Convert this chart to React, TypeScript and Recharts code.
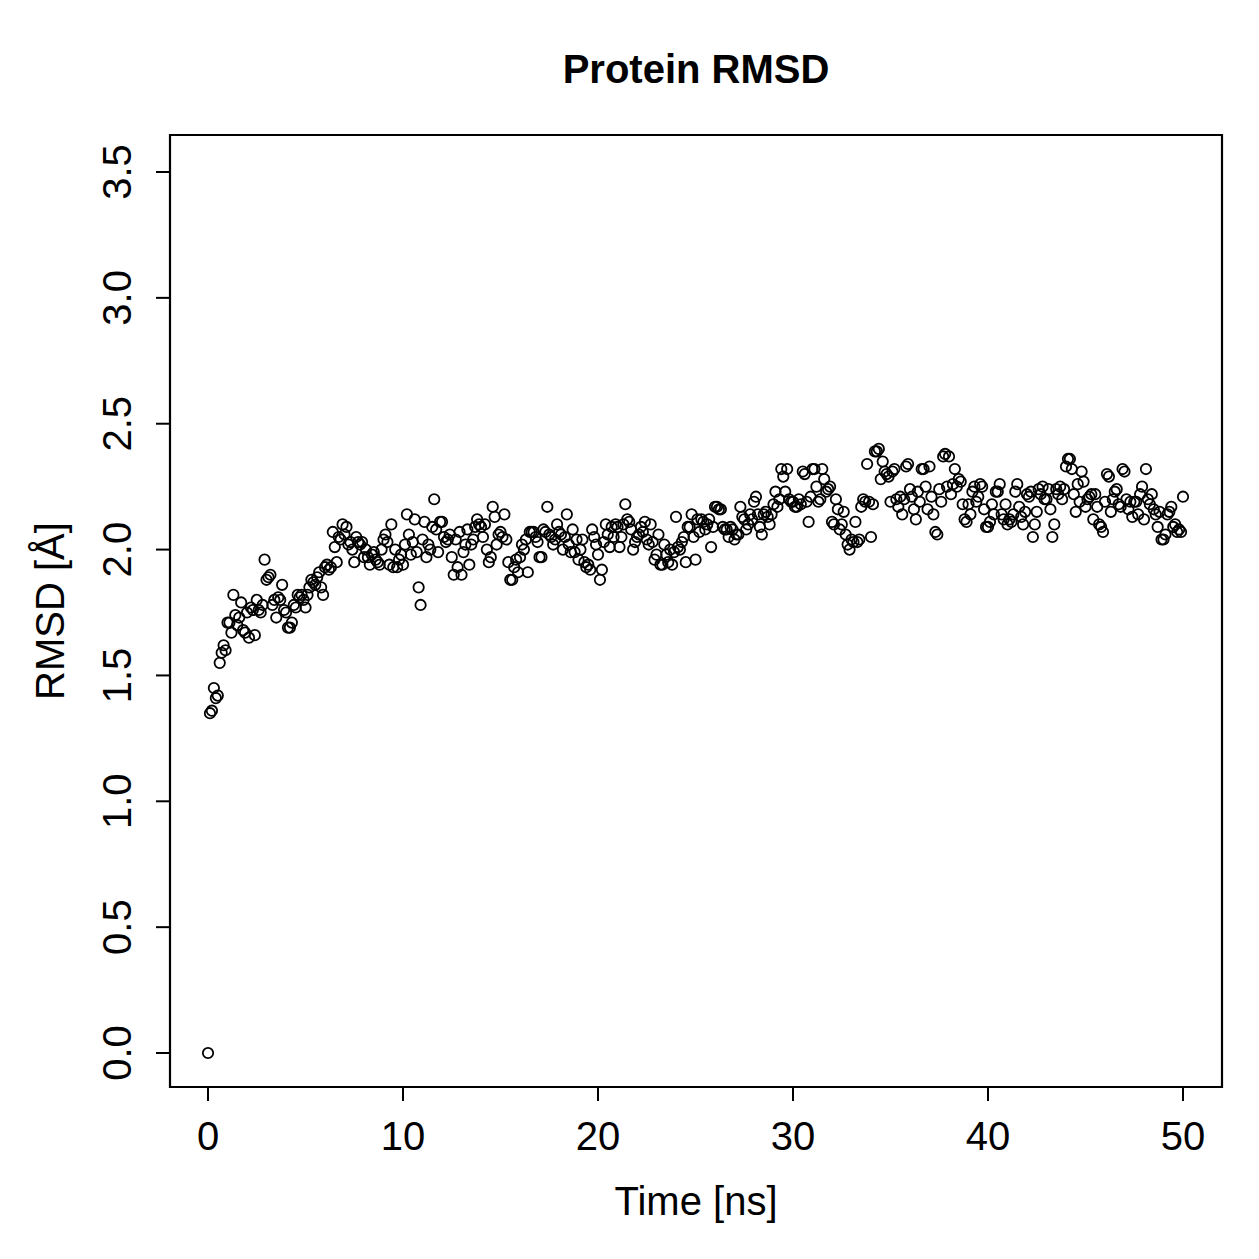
import React from "react";
import { ScatterChart, Scatter, XAxis, YAxis, ReferenceArea } from "recharts";

// RMSD trajectory sampled every 0.1 ns, split by 10 ns blocks
const TIME_STEP = 0.1;

const rmsd00to10 = [
  0.0, 1.35, 1.36, 1.45, 1.41, 1.42, 1.55, 1.59, 1.62, 1.6,
  1.71, 1.71, 1.67, 1.82, 1.74, 1.7, 1.73, 1.79, 1.68, 1.67,
  1.75, 1.65, 1.77, 1.76, 1.66, 1.8, 1.76, 1.75, 1.78, 1.96,
  1.88, 1.89, 1.9, 1.78, 1.8, 1.73, 1.81, 1.8, 1.86, 1.76,
  1.75, 1.69, 1.69, 1.71, 1.78, 1.77, 1.82, 1.81, 1.82, 1.8,
  1.77, 1.82, 1.85, 1.88, 1.87, 1.86, 1.89, 1.91, 1.85, 1.82,
  1.93, 1.94, 1.92, 1.93, 2.07, 2.01, 1.95, 2.05, 2.04, 2.1,
  2.06, 2.09, 2.02, 2.03, 2.0, 1.95, 2.05, 2.03, 2.02, 2.03,
  1.97, 2.0, 1.97, 1.94, 1.98, 1.99, 1.96, 1.95, 1.94, 2.0,
  2.04, 2.06, 2.03, 1.94, 2.1, 1.93, 2.0, 1.93, 1.96, 1.98,
];

const rmsd10to20 = [
  1.94, 2.02, 2.14, 2.06, 1.98, 2.03, 2.12, 1.99, 1.85, 1.78,
  2.04, 2.11, 1.97, 2.02, 2.0, 2.09, 2.2, 2.08, 1.99, 2.11,
  2.11, 2.05, 2.03, 2.04, 2.06, 1.97, 1.9, 2.04, 1.93, 2.07,
  1.9, 1.99, 2.02, 2.08, 1.94, 2.02, 2.04, 2.09, 2.12, 2.1,
  2.09, 2.05, 2.1, 2.0, 1.95, 1.97, 2.17, 2.13, 2.02, 2.06,
  2.07, 2.05, 2.14, 2.04, 1.95, 1.88, 1.88, 1.93, 1.96, 1.91,
  1.97, 2.02, 2.0, 2.04, 1.91, 2.07, 2.07, 2.07, 2.05, 2.03,
  1.97, 1.97, 2.08, 2.07, 2.17, 2.06, 2.05, 2.02, 2.04, 2.1,
  2.07, 2.06, 2.0, 2.05, 2.14, 2.02, 1.99, 2.08, 1.99, 2.04,
  1.96, 2.0, 2.04, 1.95, 1.93, 1.94, 1.92, 2.08, 2.05, 2.02,
];

const rmsd20to30 = [
  1.98, 1.88, 1.92, 2.03, 2.1, 2.06, 2.01, 2.09, 2.05, 2.1,
  2.09, 2.01, 2.05, 2.1, 2.18, 2.12, 2.11, 2.08, 2.0, 2.03,
  2.05, 2.06, 2.09, 2.07, 2.11, 2.04, 2.02, 2.1, 2.03, 1.96,
  1.98, 2.06, 1.94, 1.94, 2.02, 1.98, 1.95, 2.0, 1.94, 1.99,
  2.13, 2.01, 2.0, 2.03, 2.05, 1.95, 2.09, 2.09, 2.14, 2.05,
  1.96, 2.12, 2.07, 2.12, 2.11, 2.08, 2.1, 2.12, 2.01, 2.09,
  2.17, 2.17, 2.16, 2.16, 2.09, 2.08, 2.08, 2.05, 2.09, 2.08,
  2.04, 2.06, 2.06, 2.17, 2.13, 2.12, 2.08, 2.1, 2.14, 2.12,
  2.19, 2.21, 2.14, 2.09, 2.06, 2.14, 2.15, 2.13, 2.1, 2.14,
  2.18, 2.23, 2.17, 2.2, 2.32, 2.29, 2.23, 2.32, 2.2, 2.19,
];

const rmsd30to40 = [
  2.19, 2.17, 2.17, 2.2, 2.18, 2.31, 2.3, 2.19, 2.11, 2.21,
  2.32, 2.32, 2.25, 2.19, 2.2, 2.32, 2.28, 2.23, 2.24, 2.25,
  2.11, 2.1, 2.2, 2.16, 2.08, 2.1, 2.15, 2.06, 2.02, 2.0,
  2.04, 2.03, 2.11, 2.03, 2.04, 2.17, 2.2, 2.19, 2.34, 2.19,
  2.05, 2.18, 2.39, 2.39, 2.4, 2.28, 2.35, 2.31, 2.3, 2.29,
  2.19, 2.31, 2.32, 2.2, 2.17, 2.21, 2.14, 2.2, 2.33, 2.34,
  2.24, 2.21, 2.16, 2.12, 2.23, 2.19, 2.32, 2.32, 2.25, 2.16,
  2.33, 2.21, 2.14, 2.07, 2.06, 2.24, 2.19, 2.37, 2.38, 2.25,
  2.37, 2.22, 2.26, 2.32, 2.25, 2.28, 2.27, 2.18, 2.12, 2.11,
  2.18, 2.14, 2.23, 2.25, 2.19, 2.21, 2.26, 2.25, 2.16, 2.09,
];

const rmsd40to50 = [
  2.09, 2.11, 2.18, 2.14, 2.23, 2.23, 2.26, 2.14, 2.12, 2.18,
  2.1, 2.12, 2.11, 2.14, 2.23, 2.26, 2.17, 2.13, 2.1, 2.15,
  2.22, 2.21, 2.23, 2.05, 2.1, 2.15, 2.24, 2.22, 2.25, 2.2,
  2.2, 2.24, 2.16, 2.05, 2.1, 2.24, 2.22, 2.25, 2.2, 2.24,
  2.33, 2.36, 2.36, 2.32, 2.22, 2.15, 2.26, 2.19, 2.31, 2.27,
  2.17, 2.2, 2.21, 2.22, 2.12, 2.22, 2.17, 2.1, 2.09, 2.07,
  2.19, 2.3, 2.29, 2.15, 2.2, 2.23, 2.24, 2.18, 2.17, 2.32,
  2.31, 2.2, 2.16, 2.19, 2.13, 2.19, 2.19, 2.14, 2.22, 2.25,
  2.12, 2.32, 2.2, 2.18, 2.22, 2.16, 2.14, 2.09, 2.15, 2.04,
  2.04, 2.06, 2.14, 2.15, 2.17, 2.09, 2.1, 2.07, 2.08, 2.07,
  2.21,
];

const xTicks = [0, 10, 20, 30, 40, 50];
const yTicks = [0, 0.5, 1, 1.5, 2, 2.5, 3, 3.5];

const rmsd = [...rmsd00to10, ...rmsd10to20, ...rmsd20to30, ...rmsd30to40, ...rmsd40to50];
const points = rmsd.map((v, i) => ({ t: Math.round(i * TIME_STEP * 10) / 10, rmsd: v }));

const FONT = "'Liberation Sans', Arial, Helvetica, sans-serif";
const W = 1259;
const H = 1259;
const X_DOMAIN: [number, number] = [-1.95, 52];
const Y_DOMAIN: [number, number] = [-0.135, 3.647];

const XTick = (props: any) => {
  const { x, y, payload } = props;
  return (
    <text x={x} y={y} dy={47} textAnchor="middle" fontFamily={FONT} fontSize={40} fill="#000">
      {payload.value}
    </text>
  );
};

const YTick = (props: any) => {
  const { y, payload } = props;
  const bx = 131;
  return (
    <text
      x={bx}
      y={y}
      transform={`rotate(-90, ${bx}, ${y})`}
      textAnchor="middle"
      fontFamily={FONT}
      fontSize={40}
      fill="#000"
    >
      {Number(payload.value).toFixed(1)}
    </text>
  );
};

const Ring = (props: any) => (
  <circle cx={props.cx} cy={props.cy} r={5.2} fill="none" stroke="#000" strokeWidth={1.8} />
);

export default function App() {
  return (
    <div style={{ position: "absolute", left: 0, top: 0, width: W, height: H, background: "#fff" }}>
      <ScatterChart width={W} height={H} margin={{ top: 135, right: 37, left: 0, bottom: 0 }}>
        <XAxis
          type="number"
          dataKey="t"
          domain={X_DOMAIN}
          ticks={xTicks}
          allowDataOverflow
          axisLine={false}
          tickLine={{ stroke: "#000", strokeWidth: 2 }}
          tickSize={14}
          height={172}
          tick={<XTick />}
        />
        <YAxis
          type="number"
          dataKey="rmsd"
          domain={Y_DOMAIN}
          ticks={yTicks}
          allowDataOverflow
          axisLine={false}
          tickLine={{ stroke: "#000", strokeWidth: 2 }}
          tickSize={14}
          width={170}
          tick={<YTick />}
        />
        <ReferenceArea
          x1={X_DOMAIN[0]}
          x2={X_DOMAIN[1]}
          y1={Y_DOMAIN[0]}
          y2={Y_DOMAIN[1]}
          ifOverflow="visible"
          fill="none"
          fillOpacity={0}
          stroke="#000"
          strokeWidth={2.2}
        />
        <Scatter data={points} shape={<Ring />} isAnimationActive={false} />
      </ScatterChart>
      <svg
        width={W}
        height={H}
        style={{ position: "absolute", left: 0, top: 0, pointerEvents: "none" }}
      >
        <text x={696} y={83} textAnchor="middle" fontFamily={FONT} fontSize={40} fontWeight="bold" fill="#000">
          Protein RMSD
        </text>
        <text x={696} y={1215} textAnchor="middle" fontFamily={FONT} fontSize={40} fill="#000">
          Time [ns]
        </text>
        <text
          x={64}
          y={611}
          transform="rotate(-90, 64, 611)"
          textAnchor="middle"
          fontFamily={FONT}
          fontSize={40}
          fill="#000"
        >
          RMSD [Å]
        </text>
      </svg>
    </div>
  );
}
